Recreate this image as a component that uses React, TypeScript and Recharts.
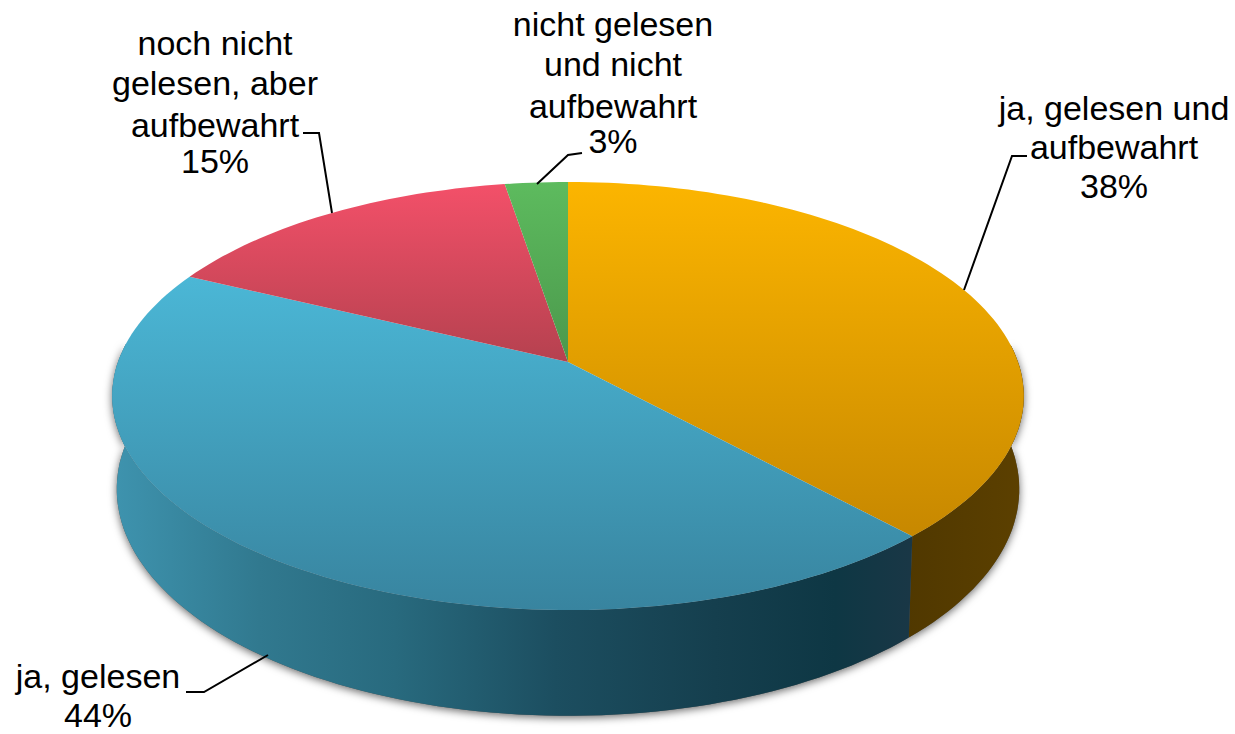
import React from 'react';
import { PieChart, Pie } from 'recharts';

const categories = ['ja, gelesen und aufbewahrt', 'ja, gelesen', 'noch nicht gelesen, aber aufbewahrt', 'nicht gelesen und nicht aufbewahrt'];
const values = [38.2, 44.0, 15.2, 2.6];
const topColors = [['#fcb500', '#c78800'], ['#4bb7d6', '#38849f'], ['#f35069', '#b5414f'], ['#5dbb5e', '#4b984c']];
const labelLines = [
  ['ja, gelesen und', 'aufbewahrt', '38%'],
  ['ja, gelesen', '44%'],
  ['noch nicht', 'gelesen, aber', 'aufbewahrt', '15%'],
  ['nicht gelesen', 'und nicht', 'aufbewahrt', '3%'],
];
const labelBoxes = [
  { x: 1114, ys: [120, 159, 198] },
  { x: 98, ys: [688, 727] },
  { x: 215, ys: [55, 95, 137, 173] },
  { x: 613, ys: [36, 76, 118, 153] },
];
const leaders = [
  '1027,156 1012,156 964,290',
  '186,692 204,692 268,655',
  '303,133 319,133 332,213',
  '582,153 568,155 537,184',
];

const data = categories.map((name, i) => ({ name, value: values[i] }));

const CX = 568;
const CY = 362;
const R = 450;
const K = 0.159;
const FLAT = 0.4636;
const LOWER_SCALE = 0.99;
const DEPTH = 91;

const rim = (deg: number, lower: boolean, r: number) => {
  const a = (deg * Math.PI) / 180;
  const u = Math.cos(a);
  const v = Math.sin(a);
  const den = 1 + K * v;
  const s = lower ? LOWER_SCALE : 1;
  return [CX + (s * r * u) / den, CY - (s * r * FLAT * v) / den + (lower ? DEPTH / den : 0)];
};

const arcAngles = (from: number, to: number) => {
  const steps = Math.max(2, Math.ceil(Math.abs(to - from) / 1.5));
  const out: number[] = [];
  for (let i = 0; i <= steps; i++) out.push(from + ((to - from) * i) / steps);
  return out;
};

const toPath = (pts: number[][]) => 'M' + pts.map((p) => `${p[0].toFixed(1)},${p[1].toFixed(1)}`).join('L') + 'Z';
const indexOf = (p: any) => categories.indexOf(p.name ?? p.payload?.name);

const TopShape = (p: any) => {
  const pts = [[p.cx, p.cy], ...arcAngles(p.startAngle, p.endAngle).map((d) => rim(d, false, p.outerRadius))];
  return <path d={toPath(pts)} fill={`url(#top${indexOf(p)})`} />;
};

// only the front of the wall can be seen, so the far part of the rim is left out
const sidePath = (p: any) => {
  const front = arcAngles(p.startAngle, p.endAngle).filter((d) => Math.sin((d * Math.PI) / 180) < 0.1);
  if (front.length < 2) return null;
  return toPath([...front.map((d) => rim(d, false, p.outerRadius)), ...[...front].reverse().map((d) => rim(d, true, p.outerRadius))]);
};

const SideShape = (p: any) => {
  const d = sidePath(p);
  return d ? <path d={d} fill={`url(#side${indexOf(p)})`} /> : <g />;
};
const ShadowShape = (p: any) => {
  const d = sidePath(p);
  return d ? <path d={d} fill="#555" style={{ filter: 'drop-shadow(0px 2px 4px rgba(0,0,0,0.6))' }} /> : <g />;
};

const renderLabel = (p: any) => {
  const i = p.index;
  const box = labelBoxes[i];
  return (
    <g key={i}>
      <polyline points={leaders[i]} fill="none" stroke="#000" strokeWidth={2} />
      <text textAnchor="middle" fontFamily="'Liberation Sans', Arial, sans-serif" fontSize={34} fill="#000">
        {labelLines[i].map((line, j) => (
          <tspan key={j} x={box.x} y={box.ys[j]}>{line}</tspan>
        ))}
      </text>
    </g>
  );
};

const pieCommon = {
  data,
  dataKey: 'value',
  nameKey: 'name',
  cx: CX,
  cy: CY,
  innerRadius: 0,
  outerRadius: R,
  startAngle: 90,
  endAngle: -270,
  stroke: 'none',
  isAnimationActive: false,
};

export default function App() {
  return (
    <div style={{ position: 'absolute', left: 0, top: 0, width: 1235, height: 734, background: '#fff', overflow: 'hidden' }}>
      <PieChart width={1235} height={734} margin={{ top: 0, right: 0, bottom: 0, left: 0 }}>
        <defs>
          {topColors.map((c, i) => (
            <linearGradient key={i} id={`top${i}`} x1="0" y1="0" x2="0" y2="1">
              <stop offset="0%" stopColor={c[0]} />
              <stop offset="100%" stopColor={c[1]} />
            </linearGradient>
          ))}
          <linearGradient id="side0" gradientUnits="userSpaceOnUse" x1="906" y1="0" x2="1024" y2="0">
            <stop offset="0%" stopColor="#503800" />
            <stop offset="100%" stopColor="#5c4000" />
          </linearGradient>
          <linearGradient id="side1" gradientUnits="userSpaceOnUse" x1="115" y1="0" x2="915" y2="0">
            <stop offset="0%" stopColor="#3e93ae" />
            <stop offset="18%" stopColor="#31798f" />
            <stop offset="35%" stopColor="#286a7e" />
            <stop offset="55%" stopColor="#1c4e60" />
            <stop offset="75%" stopColor="#153f4e" />
            <stop offset="90%" stopColor="#0e3744" />
            <stop offset="100%" stopColor="#1a3746" />
          </linearGradient>
        </defs>
        <Pie {...pieCommon} shape={ShadowShape} />
        <Pie {...pieCommon} shape={SideShape} />
        <Pie {...pieCommon} shape={TopShape} labelLine={false} label={renderLabel} />
      </PieChart>
    </div>
  );
}
